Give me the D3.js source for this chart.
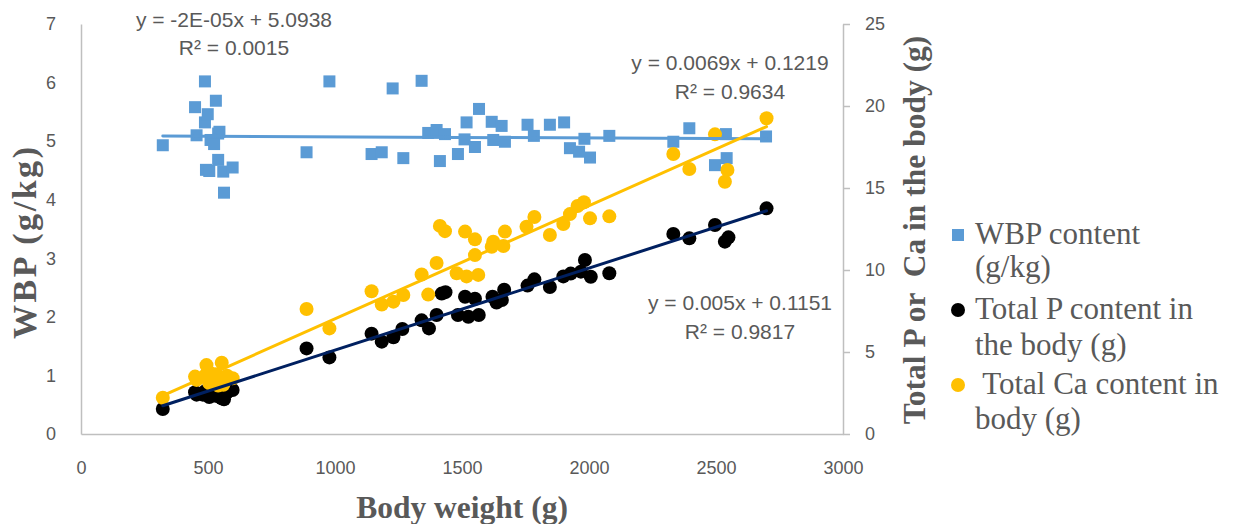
<!DOCTYPE html>
<html>
<head>
<meta charset="utf-8">
<script src="https://cdn.jsdelivr.net/npm/d3@7"></script>
<style>
  html, body { margin: 0; padding: 0; background: #fff; }
  svg { display: block; }
  .tick text { font-family: "Liberation Sans", Arial, sans-serif; font-size: 18px; fill: #595959; }
</style>
</head>
<body>
<script>
// Body weight (g) and whole-body P concentration (g/kg)
const wbpWeight = [322,449,455,488,488,499,531,540,545,510,524,540,492,505,560,597,563,888,978,1144,1184,1227,1269,1341,1367,1400,1433,1413,1484,1518,1510,1551,1567,1617,1656,1623,1669,1758,1783,1846,1902,1925,1961,2004,1982,2080,2332,2395,2539,2496,2542,2697];
const wbpValue  = [4.93,5.58,5.10,6.02,5.32,5.46,5.69,5.13,5.16,5.02,4.95,4.68,4.51,4.49,4.48,4.55,4.12,4.81,6.02,4.78,4.81,5.90,4.71,6.03,5.14,5.19,5.12,4.66,4.78,5.32,5.03,4.90,5.55,5.33,5.26,5.02,4.99,5.28,5.09,5.28,5.32,4.88,4.82,4.72,5.04,5.09,4.99,5.22,5.12,4.59,4.71,5.08];

// Body weight (g) and total P in the body (g)
const pWeight = [322,449,455,480,488,499,505,510,524,531,540,545,554,560,563,575,597,888,978,1144,1184,1230,1265,1341,1370,1400,1420,1435,1484,1512,1525,1551,1566,1620,1636,1657,1666,1758,1785,1846,1899,1928,1968,1984,2007,2080,2332,2395,2496,2535,2549,2699];
const pValue  = [1.52,2.55,2.40,2.40,2.60,2.45,2.25,2.55,2.35,2.60,2.30,2.45,2.18,2.25,2.12,2.55,2.68,5.22,4.67,6.12,5.63,5.90,6.40,6.93,6.44,7.26,8.56,8.65,7.26,8.37,7.15,8.25,7.26,8.37,8.02,8.17,8.80,9.05,9.43,8.96,9.61,9.78,9.90,10.61,9.59,9.80,12.20,11.93,12.74,11.73,11.99,13.76];

// Body weight (g) and total Ca in the body (g)
const caWeight = [322,449,455,488,494,499,505,510,521,531,540,545,554,560,563,575,597,888,978,1144,1184,1230,1269,1341,1367,1400,1413,1433,1479,1512,1518,1551,1551,1564,1617,1623,1663,1669,1754,1785,1846,1899,1925,1955,1980,2004,2080,2332,2395,2496,2535,2545,2699];
const caValue  = [2.21,3.50,3.30,3.55,4.20,3.80,3.10,3.70,3.45,3.65,2.95,3.25,4.35,3.00,3.15,3.55,3.40,7.62,6.44,8.70,7.90,8.07,8.48,9.73,8.50,10.43,12.69,12.37,9.80,12.34,9.61,11.87,10.91,9.70,11.42,11.73,11.46,12.34,12.64,13.23,12.13,12.80,13.41,13.90,14.13,13.15,13.27,17.07,16.16,18.27,15.38,16.10,19.25];

// Linear trend coefficients: WBP, P, Ca
const trendSlope     = [-0.00002, 0.005, 0.0069];
const trendIntercept = [5.0938, 0.1151, 0.1219];
const trendEquation  = ["y = -2E-05x + 5.0938", "y = 0.005x + 0.1151", "y = 0.0069x + 0.1219"];
const trendR2        = ["R² = 0.0015", "R² = 0.9817", "R² = 0.9634"];

const xTicks      = [0, 500, 1000, 1500, 2000, 2500, 3000];
const leftTicks   = [0, 1, 2, 3, 4, 5, 6, 7];
const rightTicks  = [0, 5, 10, 15, 20, 25];
const legendLines = [["WBP content", "(g/kg)"], ["Total P content in", "the body (g)"], [" Total Ca content in", "body (g)"]];

const W = 1240, H = 524;
const svg = d3.select("body").append("svg").attr("width", W).attr("height", H);

const x  = d3.scaleLinear().domain([0, 3000]).range([81, 843]);
const yL = d3.scaleLinear().domain([0, 7]).range([434, 24]);
const yR = d3.scaleLinear().domain([0, 25]).range([434, 24]);

const axisColor = "#BFBFBF";
const textColor = "#595959";
const blue = "#5B9BD5", black = "#000000", gold = "#FFC000", navy = "#002060";
const plain = d3.format("d");

// Axes
const gx = svg.append("g").attr("transform", "translate(0,434)")
  .call(d3.axisBottom(x).tickValues(xTicks).tickFormat(plain).tickSize(0).tickPadding(27));
const gl = svg.append("g").attr("transform", "translate(81,0)")
  .call(d3.axisLeft(yL).tickValues(leftTicks).tickFormat(plain).tickSize(0).tickPadding(25));
const gr = svg.append("g").attr("transform", "translate(843,0)")
  .call(d3.axisRight(yR).tickValues(rightTicks).tickFormat(plain).tickSizeInner(7).tickSizeOuter(0).tickPadding(15));
[gx, gl, gr].forEach(g => {
  g.select(".domain").attr("stroke", axisColor).attr("stroke-width", 1.5);
  g.selectAll(".tick line").attr("stroke", axisColor).attr("stroke-width", 1.5);
});

// Markers
const wbpData = wbpWeight.map((w, i) => ({ w, v: wbpValue[i] }));
const pData   = pWeight.map((w, i) => ({ w, v: pValue[i] }));
const caData  = caWeight.map((w, i) => ({ w, v: caValue[i] }));
const sq = 12, r = 7;

svg.append("g").selectAll("rect").data(wbpData).join("rect")
  .attr("x", d => x(d.w) - sq / 2).attr("y", d => yL(d.v) - sq / 2)
  .attr("width", sq).attr("height", sq).attr("fill", blue);

svg.append("g").selectAll("circle").data(pData).join("circle")
  .attr("cx", d => x(d.w)).attr("cy", d => yR(d.v)).attr("r", r).attr("fill", black);

svg.append("g").selectAll("circle").data(caData).join("circle")
  .attr("cx", d => x(d.w)).attr("cy", d => yR(d.v)).attr("r", r).attr("fill", gold);

// Trend lines over each series' weight range
const trends = [
  { ext: d3.extent(wbpWeight), y: yL, color: blue, k: 0 },
  { ext: d3.extent(pWeight),   y: yR, color: navy, k: 1 },
  { ext: d3.extent(caWeight),  y: yR, color: gold, k: 2 }
];
trends.forEach(t => {
  const f = w => trendSlope[t.k] * w + trendIntercept[t.k];
  svg.append("line")
    .attr("x1", x(t.ext[0])).attr("y1", t.y(f(t.ext[0])))
    .attr("x2", x(t.ext[1])).attr("y2", t.y(f(t.ext[1])))
    .attr("stroke", t.color).attr("stroke-width", 3).attr("stroke-linecap", "round");
});

// Trend equation labels
const eqPos = [{ cx: 234, b1: 27, b2: 55 }, { cx: 740, b1: 310, b2: 339 }, { cx: 730, b1: 70, b2: 99 }];
eqPos.forEach((p, k) => {
  const g = svg.append("g").attr("font-family", "'Liberation Sans', Arial, sans-serif")
    .attr("font-size", 21).attr("fill", textColor).attr("text-anchor", "middle");
  g.append("text").attr("x", p.cx).attr("y", p.b1).text(trendEquation[k]);
  g.append("text").attr("x", p.cx).attr("y", p.b2).text(trendR2[k]);
});

// Axis titles
const serif = "'Liberation Serif', 'Times New Roman', serif";
svg.append("text").attr("x", 462).attr("y", 518).attr("text-anchor", "middle")
  .attr("font-family", serif).attr("font-weight", "bold").attr("font-size", 31.5)
  .attr("fill", textColor).text("Body weight (g)");
svg.append("text").attr("transform", "translate(36,243) rotate(-90)").attr("text-anchor", "middle")
  .attr("font-family", serif).attr("font-weight", "bold").attr("font-size", 34)
  .attr("textLength", 192).attr("lengthAdjust", "spacing")
  .attr("fill", textColor).text("WBP (g/kg)");
svg.append("text").attr("transform", "translate(925,230) rotate(-90)").attr("text-anchor", "middle")
  .attr("font-family", serif).attr("font-weight", "bold").attr("font-size", 31.5)
  .style("white-space", "pre")
  .attr("fill", textColor).text("Total P or  Ca in the body (g)");

// Legend
const legend = svg.append("g").attr("font-family", serif).attr("font-size", 31).attr("fill", textColor);
const legendY = [235, 310, 385];
legend.append("rect").attr("x", 958 - 6).attr("y", legendY[0] - 6).attr("width", 12).attr("height", 12).attr("fill", blue);
legend.append("circle").attr("cx", 958).attr("cy", legendY[1]).attr("r", 7).attr("fill", black);
legend.append("circle").attr("cx", 958).attr("cy", legendY[2]).attr("r", 7).attr("fill", gold);
const baselines = [[244, 277], [319, 355], [394, 429]];
legendLines.forEach((lines, i) => {
  lines.forEach((s, j) => {
    legend.append("text").attr("x", 975).attr("y", baselines[i][j])
      .style("white-space", "pre").text(s);
  });
});
</script>
</body>
</html>
